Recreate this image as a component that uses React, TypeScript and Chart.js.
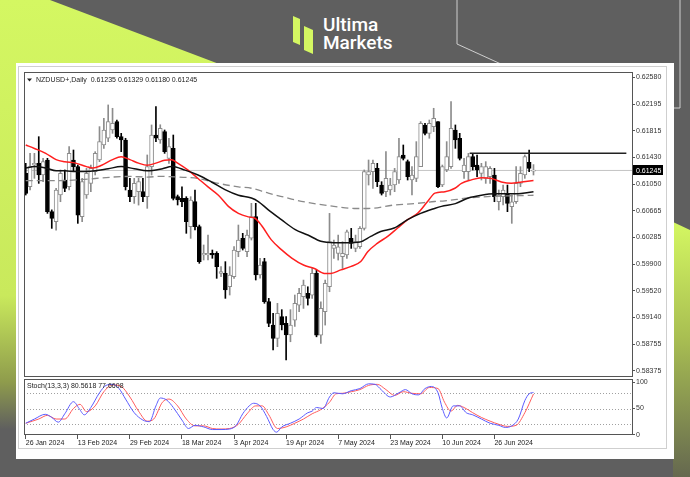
import React, { useEffect, useRef } from 'react';
import { Chart, registerables } from 'chart.js';

Chart.register(...registerables);

const FONT = '"Liberation Sans", Arial, sans-serif';

const chartTitle = 'NZDUSD+,Daily  0.61235 0.61329 0.61180 0.61245';
const stochTitle = 'Stoch(13,3,3) 80.5618 77.6608';

const dateLabels = ['26 Jan 2024', '13 Feb 2024', '29 Feb 2024', '18 Mar 2024', '3 Apr 2024', '19 Apr 2024', '7 May 2024', '23 May 2024', '10 Jun 2024', '26 Jun 2024'];
const dateTickIdx = [0, 12, 24, 36, 48, 60, 72, 84, 96, 108];
const priceTicks = [0.6258, 0.62195, 0.61815, 0.6143, 0.6105, 0.60665, 0.60285, 0.599, 0.5952, 0.5914, 0.58755, 0.58375];
const stochTicks = [0, 20, 50, 80, 100];
const stochLevels = [20, 50, 80];
const bidPrice = 0.61245;

const opens = [
  0.61204, 0.61013, 0.61323, 0.61347, 0.61180, 0.61395, 0.60654, 0.60511, 0.60893, 0.61108,
  0.61013, 0.61395, 0.61299, 0.60582, 0.60893, 0.61060, 0.61228, 0.61395, 0.61610, 0.61706,
  0.61825, 0.61945, 0.61729, 0.61682, 0.60965, 0.60869, 0.60941, 0.60941, 0.60869, 0.61299,
  0.61753, 0.61682, 0.61801, 0.61419, 0.61562, 0.60869, 0.60845, 0.60845, 0.60439, 0.60798,
  0.60439, 0.60033, 0.60033, 0.60057, 0.60057, 0.59771, 0.59771, 0.59580, 0.59723, 0.60081,
  0.60272, 0.60081, 0.60275, 0.60583, 0.59747, 0.59938, 0.59365, 0.59030, 0.58839, 0.59150,
  0.59054, 0.58887, 0.59100, 0.59316, 0.59435, 0.59483, 0.59459, 0.59770, 0.58885, 0.59220,
  0.59578, 0.60128, 0.60057, 0.60009, 0.60033, 0.60272, 0.60128, 0.60152, 0.60415, 0.61180,
  0.61228, 0.61275, 0.61036, 0.60941, 0.60965, 0.61036, 0.61108, 0.61467, 0.61371, 0.61108,
  0.61132, 0.61299, 0.61897, 0.61777, 0.61873, 0.61945, 0.61036, 0.61252, 0.61299, 0.61825,
  0.61706, 0.61228, 0.61228, 0.61443, 0.61323, 0.61204, 0.61132, 0.61156, 0.61180, 0.60797,
  0.60869, 0.60917, 0.60725, 0.60797, 0.61060, 0.61180, 0.61360, 0.61235,
];
const highs = [
  0.61347, 0.61490, 0.61490, 0.61729, 0.61419, 0.61419, 0.60680, 0.60989, 0.61252, 0.61252,
  0.61586, 0.61538, 0.61323, 0.61132, 0.61275, 0.61323, 0.61514, 0.61873, 0.61992, 0.62184,
  0.62136, 0.61968, 0.61777, 0.61706, 0.61132, 0.61132, 0.61132, 0.61132, 0.61467, 0.61897,
  0.62159, 0.61900, 0.61825, 0.61705, 0.61753, 0.60893, 0.61012, 0.60869, 0.60869, 0.60965,
  0.60463, 0.60177, 0.60320, 0.60105, 0.60081, 0.59866, 0.59938, 0.59866, 0.60153, 0.60463,
  0.60344, 0.60392, 0.60774, 0.60774, 0.59986, 0.59986, 0.59412, 0.59197, 0.59341, 0.59250,
  0.59150, 0.59250, 0.59460, 0.59555, 0.59674, 0.59578, 0.59841, 0.59817, 0.59363, 0.59674,
  0.60630, 0.60248, 0.60319, 0.60224, 0.60391, 0.60415, 0.60319, 0.60439, 0.61252, 0.61395,
  0.61395, 0.61347, 0.61084, 0.61514, 0.61132, 0.61275, 0.61706, 0.61610, 0.61395, 0.61299,
  0.61658, 0.61945, 0.61921, 0.61968, 0.62136, 0.61945, 0.61323, 0.61658, 0.62231, 0.61897,
  0.61777, 0.61419, 0.61490, 0.61490, 0.61467, 0.61347, 0.61371, 0.61299, 0.61275, 0.60965,
  0.61036, 0.61036, 0.60893, 0.61299, 0.61299, 0.61467, 0.61538, 0.61329,
];
const lows = [
  0.60893, 0.60965, 0.61132, 0.61060, 0.61084, 0.60630, 0.60415, 0.60391, 0.60797, 0.60941,
  0.60965, 0.61228, 0.60487, 0.60511, 0.60845, 0.60941, 0.61180, 0.61371, 0.61562, 0.61658,
  0.61777, 0.61706, 0.61514, 0.60965, 0.60797, 0.60773, 0.60749, 0.60797, 0.60702, 0.61180,
  0.61658, 0.61634, 0.61490, 0.61347, 0.60822, 0.60750, 0.60726, 0.60344, 0.60272, 0.60392,
  0.59914, 0.59962, 0.59962, 0.59986, 0.59699, 0.59723, 0.59412, 0.59460, 0.59699, 0.60009,
  0.60105, 0.60009, 0.60248, 0.59675, 0.59700, 0.59341, 0.59006, 0.58672, 0.58720, 0.58960,
  0.58529, 0.58790, 0.59010, 0.59220, 0.59268, 0.59316, 0.59411, 0.58861, 0.58766, 0.59029,
  0.59507, 0.59985, 0.59961, 0.59841, 0.59985, 0.60128, 0.60080, 0.60128, 0.60391, 0.61036,
  0.60989, 0.61013, 0.60893, 0.60869, 0.60893, 0.60941, 0.61060, 0.61395, 0.61108, 0.60893,
  0.61084, 0.61299, 0.61753, 0.61706, 0.61801, 0.60998, 0.61013, 0.61228, 0.61275, 0.61562,
  0.61395, 0.61132, 0.61108, 0.61252, 0.61156, 0.61108, 0.61060, 0.61060, 0.60797, 0.60678,
  0.60750, 0.60654, 0.60487, 0.60773, 0.61013, 0.61132, 0.61228, 0.61180,
];
const closes = [
  0.60917, 0.61299, 0.61347, 0.61180, 0.61371, 0.60654, 0.60558, 0.60965, 0.61204, 0.60989,
  0.61490, 0.61299, 0.60606, 0.61084, 0.61204, 0.61275, 0.61490, 0.61658, 0.61825, 0.61945,
  0.61921, 0.61729, 0.61682, 0.61013, 0.60869, 0.61060, 0.61084, 0.60869, 0.61299, 0.61753,
  0.61706, 0.61849, 0.61514, 0.61586, 0.60845, 0.60822, 0.60797, 0.60511, 0.60821, 0.60439,
  0.59938, 0.60057, 0.60057, 0.60033, 0.59866, 0.59795, 0.59532, 0.59747, 0.60105, 0.60248,
  0.60129, 0.60320, 0.60583, 0.59747, 0.59890, 0.59365, 0.59054, 0.58839, 0.59197, 0.59030,
  0.58887, 0.59030, 0.59341, 0.59483, 0.59602, 0.59411, 0.59770, 0.58885, 0.59268, 0.59626,
  0.60224, 0.60176, 0.60152, 0.60057, 0.60367, 0.60200, 0.60224, 0.60415, 0.61228, 0.61228,
  0.61347, 0.61084, 0.60917, 0.61132, 0.61036, 0.61228, 0.61443, 0.61419, 0.61156, 0.61180,
  0.61443, 0.61921, 0.61777, 0.61921, 0.61992, 0.61013, 0.61299, 0.61443, 0.61849, 0.61682,
  0.61419, 0.61323, 0.61443, 0.61299, 0.61252, 0.61299, 0.61299, 0.61275, 0.60869, 0.60893,
  0.60965, 0.60773, 0.60797, 0.61060, 0.61204, 0.61443, 0.61275, 0.61245,
];

// moving averages: [bar index, price]
const redMA = [
  [0, 0.6161], [2, 0.6156], [4.6, 0.6149], [7, 0.6140], [9, 0.6137], [11.5, 0.6135], [14, 0.6130],
  [15.5, 0.6128], [17.5, 0.6132], [20, 0.6140], [22, 0.6144], [24, 0.6140], [26, 0.6135], [28, 0.6132],
  [30, 0.6135], [32, 0.6139], [33.6, 0.6140], [35, 0.6135], [37.4, 0.6125], [39.7, 0.6113], [42, 0.6101],
  [44.4, 0.6089], [46.7, 0.6073], [49, 0.6063], [51.3, 0.6058], [52.8, 0.6056], [54.3, 0.6046],
  [56.6, 0.6025], [58.9, 0.6011], [61.3, 0.5999], [64, 0.5989], [66.5, 0.5984], [68.8, 0.5977],
  [70.3, 0.5977], [72.6, 0.5982], [75, 0.5987], [77.2, 0.5994], [78.8, 0.6008], [81, 0.6020],
  [83.4, 0.6030], [85.7, 0.6042], [88, 0.6054], [90.3, 0.6063], [92.6, 0.6080], [94.3, 0.6092],
  [96.6, 0.6094], [98.9, 0.6099], [100.4, 0.6106], [102.7, 0.6111], [105, 0.6114], [107.3, 0.6113],
  [109.6, 0.6108], [111.9, 0.6106], [114.3, 0.6108], [117, 0.6110],
];
const blackMA = [
  [0, 0.6128], [2, 0.6130], [4.6, 0.6128], [7, 0.6124], [9, 0.6124], [11.5, 0.6123], [14, 0.6123],
  [16, 0.6124], [19, 0.6127], [22, 0.6130], [25, 0.6127], [28, 0.6124], [31.5, 0.6127], [33.6, 0.6130],
  [36.7, 0.6125], [39.7, 0.6118], [42.8, 0.6108], [45.9, 0.6097], [49, 0.6089], [52, 0.6085],
  [53.6, 0.6080], [55.9, 0.6068], [58.9, 0.6054], [62, 0.6040], [65, 0.6032], [68, 0.6023],
  [71, 0.6021], [74, 0.6021], [77, 0.6022], [79.5, 0.6030], [81.8, 0.6037], [84.9, 0.6042],
  [88, 0.6054], [91, 0.6063], [94.2, 0.6070], [95.8, 0.6073], [99, 0.6077], [102, 0.6085],
  [105, 0.6089], [108, 0.6091], [111, 0.6091], [113.5, 0.6091], [115.8, 0.6093], [117, 0.6094],
];
const grayMA = [
  [0, 0.6110], [4, 0.6110], [8, 0.6110], [12, 0.6111], [16, 0.6113], [20, 0.6115], [24, 0.6116],
  [28, 0.6115], [31, 0.6116], [35, 0.6115], [39.7, 0.6113], [44.4, 0.6106], [49, 0.6101], [52, 0.6099],
  [55.9, 0.6092], [59.7, 0.6086], [62.3, 0.6082], [66.5, 0.6077], [71, 0.6073], [75.7, 0.6070],
  [79, 0.6070], [84.9, 0.6075], [89.5, 0.6077], [94.2, 0.6080], [96.6, 0.6081], [102, 0.6085],
  [106.4, 0.6087], [111, 0.6088], [117, 0.6089],
];
const resistanceLine = [[102.3, 0.61491], [138.4, 0.61491]];

// stochastic: [bar index, value]
const stochK = [
  [0, 22], [2, 30], [4.5, 39], [6, 33], [7.5, 24], [9, 40], [11, 63], [12.3, 50], [13.5, 38], [15, 52],
  [17, 80], [18.5, 94], [20, 96], [21.5, 88], [23, 68], [25, 42], [27, 28], [28.5, 25], [30, 55], [31, 70],
  [32.5, 66], [34, 52], [36, 28], [37.5, 12], [39, 18], [41, 15], [43, 10], [45, 10], [47, 11], [48.5, 18],
  [50, 40], [51.5, 55], [52.5, 60], [54, 55], [55.5, 35], [57, 10], [57.8, 5], [59, 15], [61, 22], [63, 30],
  [65, 42], [66, 45], [67, 52], [68.5, 50], [70, 72], [71, 80], [73, 78], [75, 84], [77, 88], [79, 97],
  [80.5, 96], [82, 85], [84, 72], [86, 80], [87.5, 86], [89, 78], [90.5, 76], [92, 88], [93.5, 92],
  [95, 80], [96, 50], [97, 32], [98.5, 55], [100, 55], [101.5, 42], [103, 38], [105, 30], [107, 22],
  [109, 18], [110.5, 14], [112, 17], [113.5, 30], [115, 65], [116, 78], [117, 80.6],
];
const stochD = [
  [0, 22], [3, 30], [5, 37], [7, 30], [9, 30], [11, 50], [12.5, 58], [14, 44], [16, 55], [18, 82],
  [20, 95], [22, 92], [24, 72], [26, 45], [28, 26], [29.5, 30], [31.5, 62], [33, 68], [35, 55], [37, 30],
  [39, 17], [41, 17], [43, 12], [45, 11], [47, 12], [49, 20], [51, 40], [53, 55], [54.5, 55], [56, 38],
  [58, 12], [60, 15], [62, 22], [64, 30], [66, 40], [68, 48], [70, 62], [71.5, 78], [73, 79], [75, 82],
  [77, 86], [79, 94], [81, 96], [83, 86], [85, 75], [87, 82], [89, 79], [91, 78], [93, 90], [95, 88],
  [96.5, 62], [98, 45], [99.5, 56], [101, 52], [103, 42], [105, 33], [107, 26], [109, 20], [111, 16],
  [113, 18], [115, 42], [117, 77.7],
];

const X_MIN = -0.4;
const X_MAX = 139.7;

const toXY = (arr: number[][]) => arr.map(([x, y]) => ({ x, y }));

const mtPlugin = {
  id: 'mtDecor',
  beforeDatasetsDraw(chart: any) {
    const { ctx, chartArea } = chart;
    const ys = chart.scales.ys;
    ctx.save();
    ctx.strokeStyle = '#a0a0a0';
    ctx.lineWidth = 1;
    ctx.setLineDash([1, 2]);
    for (const v of stochLevels) {
      const py = Math.round(ys.getPixelForValue(v)) + 0.5;
      ctx.beginPath();
      ctx.moveTo(chartArea.left, py);
      ctx.lineTo(chartArea.right, py);
      ctx.stroke();
    }
    ctx.restore();
  },
  afterDraw(chart: any) {
    const { ctx, chartArea } = chart;
    const { left, right } = chartArea;
    const y = chart.scales.y;
    const ys = chart.scales.ys;
    const L = Math.round(left) + 0.5;
    const W = Math.round(right - left);
    ctx.save();
    // outer terminal window border
    ctx.strokeStyle = '#cfcfcf';
    ctx.lineWidth = 1;
    ctx.strokeRect(2.5, 3.5, 648, 382);
    // panel frames
    ctx.strokeStyle = '#555555';
    ctx.strokeRect(L, Math.round(y.top) + 0.5, W, Math.round(y.bottom - y.top) - 1);
    ctx.strokeRect(L, Math.round(ys.top) + 2.5, W, Math.round(ys.bottom - ys.top) - 3);
    // title arrow + text
    ctx.fillStyle = '#222';
    ctx.beginPath();
    ctx.moveTo(left + 3, y.top + 6.5);
    ctx.lineTo(left + 8, y.top + 6.5);
    ctx.lineTo(left + 5.5, y.top + 9.5);
    ctx.closePath();
    ctx.fill();
    ctx.font = `7px ${FONT}`;
    ctx.textBaseline = 'middle';
    ctx.textAlign = 'left';
    ctx.fillText(chartTitle, left + 12, y.top + 8);
    ctx.fillText(stochTitle, left + 3, ys.top + 9);
    // current price box
    const py = y.getPixelForValue(bidPrice);
    ctx.fillStyle = '#000';
    ctx.fillRect(right + 1, Math.round(py) - 5, 30, 10);
    ctx.fillStyle = '#fff';
    ctx.fillText(bidPrice.toFixed(5), right + 4, py + 0.5);
    ctx.restore();
  },
};

function CandleChart() {
  const ref = useRef<HTMLCanvasElement | null>(null);
  useEffect(() => {
    if (!ref.current) return;
    const bull = opens.map((o, i) => closes[i] >= o);
    const bodyData = opens.map((o, i) => ({ x: i, y: [o, closes[i]] }));
    const wickData = lows.map((l, i) => ({ x: i, y: [l, highs[i]] }));
    const chart = new Chart(ref.current, {
      type: 'bar',
      data: {
        datasets: [
          {
            type: 'line', label: 'bid', data: toXY([[X_MIN, bidPrice], [X_MAX, bidPrice]]),
            borderColor: '#c4c4c4', borderWidth: 1, pointRadius: 0, order: 20, yAxisID: 'y',
          },
          {
            type: 'line', label: 'MA gray', data: toXY(grayMA), borderColor: '#8a8a8a', borderWidth: 1.3,
            borderDash: [7, 4], pointRadius: 0, cubicInterpolationMode: 'monotone', order: 1, yAxisID: 'y',
          },
          {
            type: 'line', label: 'MA black', data: toXY(blackMA), borderColor: '#111', borderWidth: 1.5,
            pointRadius: 0, cubicInterpolationMode: 'monotone', order: 0, yAxisID: 'y',
          },
          {
            type: 'line', label: 'MA red', data: toXY(redMA), borderColor: '#ff1f1f', borderWidth: 1.5,
            pointRadius: 0, cubicInterpolationMode: 'monotone', order: 0, yAxisID: 'y',
          },
          {
            type: 'line', label: 'resistance', data: toXY(resistanceLine), borderColor: '#222', borderWidth: 1.5,
            pointRadius: 0, order: 0, yAxisID: 'y',
          },
          {
            type: 'bar', label: 'body', data: bodyData as any,
            backgroundColor: bull.map((b) => (b ? '#ffffff' : '#000000')),
            borderColor: bull.map((b) => (b ? '#8c8c8c' : '#000000')),
            borderWidth: 1, borderSkipped: false, barThickness: 4, minBarLength: 1,
            grouped: false, order: 5, yAxisID: 'y',
          },
          {
            type: 'bar', label: 'wick', data: wickData as any,
            backgroundColor: bull.map((b) => (b ? '#8c8c8c' : '#000000')),
            borderWidth: 0, barThickness: 1, grouped: false, order: 6, yAxisID: 'y',
          },
          {
            type: 'line', label: 'K', data: toXY(stochK), borderColor: '#5b5bff', borderWidth: 1,
            pointRadius: 0, cubicInterpolationMode: 'monotone', order: 0, yAxisID: 'ys',
          },
          {
            type: 'line', label: 'D', data: toXY(stochD), borderColor: '#ff5c5c', borderWidth: 1,
            pointRadius: 0, cubicInterpolationMode: 'monotone', order: 1, yAxisID: 'ys',
          },
        ] as any,
      },
      options: {
        responsive: false,
        animation: false,
        events: [],
        layout: { padding: { left: 8, top: 9, right: 0, bottom: 0 } },
        plugins: { legend: { display: false }, tooltip: { enabled: false } },
        scales: {
          x: {
            type: 'linear', min: X_MIN, max: X_MAX, offset: false,
            grid: { offset: false, drawOnChartArea: false, drawTicks: true, tickLength: 4, color: '#555' },
            border: { display: false },
            ticks: {
              autoSkip: false, maxRotation: 0, minRotation: 0, align: 'start', padding: 0,
              font: { family: FONT, size: 7 }, color: '#222',
              callback: (v: any) => {
                const k = dateTickIdx.indexOf(Number(v));
                return k >= 0 ? dateLabels[k] : '';
              },
            },
            afterBuildTicks: (s: any) => { s.ticks = dateTickIdx.map((v) => ({ value: v })); },
            afterFit: (s: any) => { s.height = 24; },
          },
          y: {
            type: 'linear', position: 'right', stack: 'panes', stackWeight: 305,
            min: 0.58285, max: 0.62656,
            grid: { drawOnChartArea: false, drawTicks: true, tickLength: 3, color: '#555' },
            border: { display: false },
            ticks: {
              padding: 1, font: { family: FONT, size: 7 }, color: '#333',
              callback: (v: any) => Number(v).toFixed(5),
            },
            afterBuildTicks: (s: any) => { s.ticks = priceTicks.map((v) => ({ value: v })); },
            afterFit: (s: any) => { s.width = 42; },
          },
          ys: {
            type: 'linear', position: 'right', stack: 'panes', stackWeight: 58,
            min: -0.4, max: 110,
            grid: { drawOnChartArea: false, drawTicks: true, tickLength: 3, color: '#555' },
            border: { display: false },
            ticks: {
              padding: 1, font: { family: FONT, size: 7 }, color: '#333',
              callback: (v: any) => String(v),
            },
            afterBuildTicks: (s: any) => { s.ticks = stochTicks.map((v) => ({ value: v })); },
            afterFit: (s: any) => { s.width = 42; },
          },
        },
      } as any,
      plugins: [mtPlugin],
    });
    return () => chart.destroy();
  }, []);
  return (
    <canvas
      ref={ref}
      width={658}
      height={396}
      style={{ position: 'absolute', left: 16, top: 63, width: 658, height: 396 }}
    />
  );
}

export default function App() {
  return (
    <div style={{ position: 'absolute', left: 0, top: 0, width: 690, height: 477, overflow: 'hidden', background: '#5f5f5f' }}>
      <svg width={690} height={477} style={{ position: 'absolute', left: 0, top: 0 }}>
        <defs>
          <linearGradient id="limeLeft" x1="0" y1="0" x2="0" y2="477" gradientUnits="userSpaceOnUse">
            <stop offset="0" stopColor="#d4f762" />
            <stop offset="0.62" stopColor="#c9e95c" />
            <stop offset="0.8" stopColor="#8f9c4c" />
            <stop offset="0.9" stopColor="#5f5f5f" />
          </linearGradient>
          <linearGradient id="limeRight" x1="0" y1="222" x2="0" y2="477" gradientUnits="userSpaceOnUse">
            <stop offset="0" stopColor="#d4f762" />
            <stop offset="0.45" stopColor="#a9bf52" />
            <stop offset="1" stopColor="#65684f" />
          </linearGradient>
        </defs>
        <rect x={0} y={0} width={690} height={477} fill="#5f5f5f" />
        <polygon points="0,0 50,0 235,70 16,70 16,477 0,477" fill="url(#limeLeft)" />
        <polygon points="673,222 690,230 690,477 673,477" fill="url(#limeRight)" />
        <polyline points="457,0 457,44 580,100" fill="none" stroke="#cfcfcf" strokeWidth={1} />
        <polyline points="680,0 680,108 673,108" fill="none" stroke="#cfcfcf" strokeWidth={1} />
        <polygon points="293,16 300,19 300,45 293,42" fill="#d4f762" />
        <polygon points="304,26 313,30 313,54 304,50" fill="#d4f762" />
        <text x={323} y={31} fill="#ffffff" fontFamily="Roboto, sans-serif" fontWeight={500} fontSize={19}>Ultima</text>
        <text x={323} y={49} fill="#ffffff" fontFamily="Roboto, sans-serif" fontWeight={500} fontSize={19}>Markets</text>
        <rect x={16} y={63} width={658} height={396} fill="#ffffff" />
      </svg>
      <CandleChart />
    </div>
  );
}
